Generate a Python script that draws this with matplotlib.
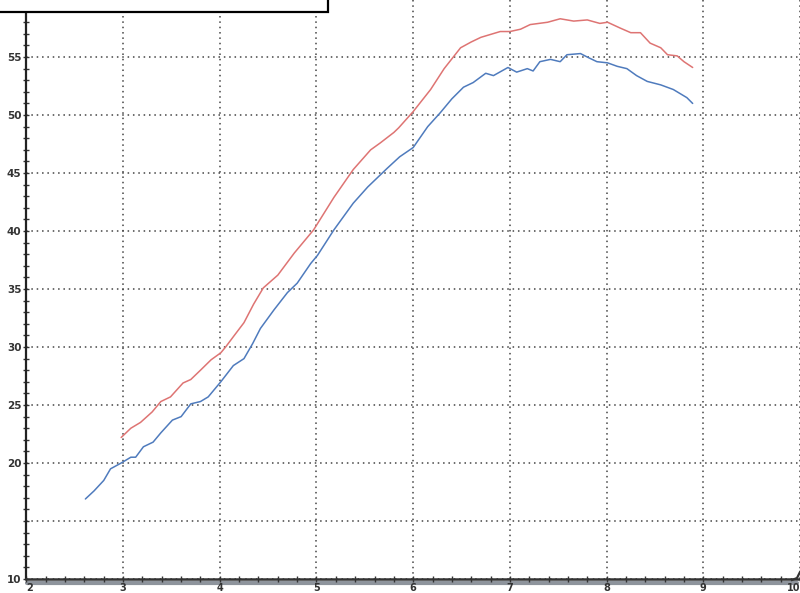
import numpy as np
import matplotlib
matplotlib.use("Agg")
import matplotlib.pyplot as plt
from matplotlib.patches import Rectangle
from matplotlib.lines import Line2D

# ---- data ----
blue_x = [2.61, 2.70, 2.80, 2.87, 2.98, 3.08, 3.13, 3.21, 3.31, 3.39, 3.51, 3.60, 3.70,
          3.80, 3.88, 4.01, 4.14, 4.25, 4.34, 4.42, 4.56, 4.70, 4.80, 4.94, 5.01, 5.18, 5.38,
          5.53, 5.73, 5.86, 6.00, 6.15, 6.28, 6.40, 6.52, 6.62, 6.75, 6.83, 6.98, 7.07,
          7.18, 7.24, 7.31, 7.42, 7.52, 7.59, 7.73, 7.80, 7.90, 8.01, 8.11, 8.21, 8.31,
          8.42, 8.56, 8.69, 8.83, 8.89]
blue_y = [16.9, 17.6, 18.5, 19.5, 20.0, 20.5, 20.5, 21.4, 21.8, 22.6, 23.7, 24.0, 25.1,
          25.3, 25.7, 27.0, 28.4, 29.0, 30.3, 31.6, 33.2, 34.7, 35.5, 37.2, 37.9, 40.1, 42.4,
          43.8, 45.4, 46.4, 47.2, 49.0, 50.2, 51.4, 52.4, 52.8, 53.6, 53.4, 54.1, 53.7,
          54.0, 53.8, 54.6, 54.8, 54.6, 55.2, 55.3, 55.0, 54.6, 54.5, 54.2, 54.0, 53.4,
          52.9, 52.6, 52.2, 51.5, 51.0]

red_x = [2.98, 3.08, 3.18, 3.30, 3.39, 3.49, 3.62, 3.70, 3.80, 3.91, 4.01, 4.06, 4.15, 4.25,
         4.35, 4.45, 4.60, 4.77, 4.97, 5.18, 5.38, 5.56, 5.66, 5.80, 5.85, 6.00, 6.18, 6.32,
         6.49, 6.60, 6.70, 6.90, 7.00, 7.11, 7.21, 7.39, 7.52, 7.66, 7.80, 7.93, 8.01,
         8.14, 8.25, 8.35, 8.45, 8.56, 8.63, 8.73, 8.80, 8.89]
red_y = [22.2, 23.0, 23.5, 24.4, 25.3, 25.7, 26.9, 27.2, 28.0, 28.9, 29.5, 30.0, 31.0, 32.1,
         33.7, 35.1, 36.2, 38.1, 40.1, 42.9, 45.3, 47.0, 47.6, 48.5, 48.9, 50.3, 52.2, 54.0,
         55.8, 56.3, 56.7, 57.2, 57.2, 57.4, 57.8, 58.0, 58.3, 58.1, 58.2, 57.9, 58.0,
         57.5, 57.1, 57.1, 56.2, 55.8, 55.2, 55.1, 54.6, 54.1]

x_ticks = [2, 3, 4, 5, 6, 7, 8, 9, 10]
x_labels = ["2", "3", "4", "5", "6", "7", "8", "9", "10"]
y_ticks = [10, 15, 20, 25, 30, 35, 40, 45, 50, 55]
y_labels = ["10", "", "20", "25", "30", "35", "40", "45", "50", "55"]

fig = plt.figure(figsize=(8.0, 5.93), dpi=100)
ax = fig.add_axes([0.033, 0.0236, 0.967, 0.978])

ax.plot(blue_x, blue_y, color="#4f7bbd", lw=1.1, solid_capstyle="round",
        solid_joinstyle="round")
ax.plot(red_x, red_y, color="#de7473", lw=1.1, solid_capstyle="round",
        solid_joinstyle="round")

ax.set_xlim(2, 10)
ax.set_ylim(10, 60)
ax.set_xticks(x_ticks)
ax.set_xticklabels(x_labels)
ax.set_yticks(y_ticks)
ax.set_yticklabels(y_labels)
ax.set_xticks(np.arange(2, 10.01, 0.2), minor=True)
ax.set_yticks(np.arange(10, 60.01, 1), minor=True)

for s in ["top", "right"]:
    ax.spines[s].set_visible(False)
ax.spines["left"].set_linewidth(1.6)
ax.spines["bottom"].set_linewidth(1.8)
ax.spines["left"].set_color("#222222")
ax.spines["bottom"].set_color("#333333")

ax.tick_params(axis="both", which="both", direction="inout", length=5,
               width=1.0, color="#333333")
ax.tick_params(axis="y", which="major", pad=1, labelsize=7.5, labelcolor="#333333")
ax.tick_params(axis="x", which="major", pad=0.5, labelsize=7, labelcolor="#333333")
for lab in ax.get_xticklabels() + ax.get_yticklabels():
    lab.set_fontweight("bold")
xl = ax.get_xticklabels()
xl[0].set_horizontalalignment("left")
xl[-1].set_horizontalalignment("right")

ax.grid(True, which="major", linestyle=(0, (1, 2.5)), linewidth=1.1, color="#444444")
ax.set_axisbelow(True)

# gray shadow under the bottom axis
W, H = 800, 593
fig.add_artist(Line2D([27 / W, 797 / W], [1 - 582.5 / H, 1 - 582.5 / H],
                      transform=fig.transFigure, color="#8e949c", lw=3.0,
                      solid_capstyle="round", zorder=0))
# upturn of the bottom axis at the right end
fig.add_artist(Line2D([792 / W, 797 / W, 800 / W], [1 - 580 / H, 1 - 578 / H, 1 - 572 / H],
                      transform=fig.transFigure, color="#333333", lw=1.6))

# empty bordered box at top-left
fig.add_artist(Rectangle((-5 / W, 1 - 12 / H), 333 / W, 20 / H,
                         transform=fig.transFigure, facecolor="white",
                         edgecolor="black", lw=1.6, zorder=10))

fig.savefig("out.png", dpi=100)
